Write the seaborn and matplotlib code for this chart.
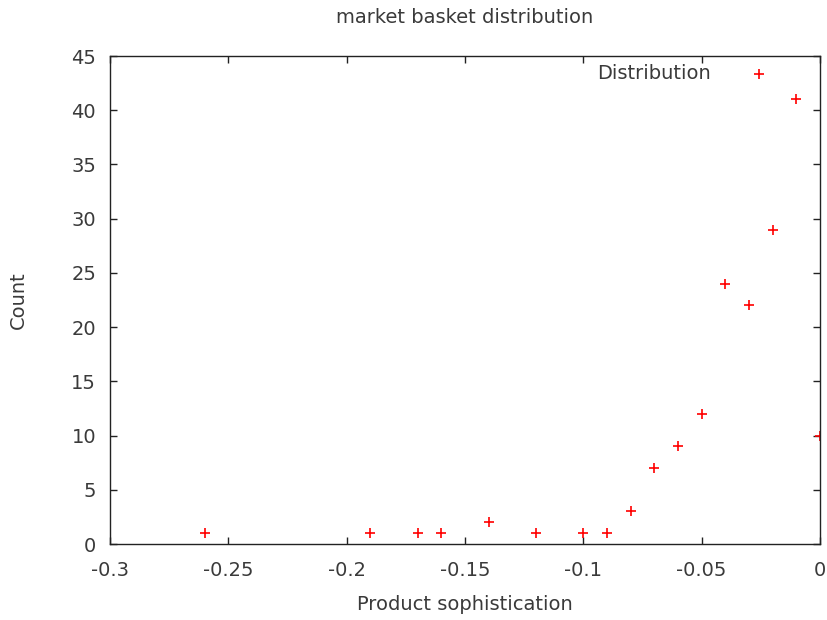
import matplotlib
matplotlib.use("Agg")
import matplotlib.pyplot as plt
import seaborn as sns
import pandas as pd

# Product sophistication bins and their counts
sophistication = [-0.26, -0.19, -0.17, -0.16, -0.14, -0.12, -0.10, -0.09,
                  -0.08, -0.07, -0.06, -0.05, -0.04, -0.03, -0.02, -0.01, 0.0]
counts = [1, 1, 1, 1, 2, 1, 1, 1, 3, 7, 9, 12, 24, 22, 29, 41, 10]

x_ticks = [-0.3, -0.25, -0.2, -0.15, -0.1, -0.05, 0.0]
x_tick_labels = ["-0.3", "-0.25", "-0.2", "-0.15", "-0.1", "-0.05", "0"]
y_ticks = [0, 5, 10, 15, 20, 25, 30, 35, 40, 45]
y_tick_labels = [str(v) for v in y_ticks]

df = pd.DataFrame({"Product sophistication": sophistication, "Count": counts})

sns.set_style("white")
plt.rcParams["font.family"] = ["DejaVu Sans"]
text_color = "#3a3a3a"
fs = 14

fig = plt.figure(figsize=(8.28, 6.2), dpi=100)
ax = fig.add_axes([110 / 828, 76 / 620, 710 / 828, 488 / 620])

sns.scatterplot(data=df, x="Product sophistication", y="Count", ax=ax,
                marker="+", color="#ff0000", s=60, linewidth=1.2,
                label="Distribution", legend=False)

ax.set_xlim(-0.3, 0.0)
ax.set_ylim(0, 45)
ax.set_xticks(x_ticks)
ax.set_xticklabels(x_tick_labels)
ax.set_yticks(y_ticks)
ax.set_yticklabels(y_tick_labels)

ax.tick_params(axis="both", direction="in", length=5, width=1, color="#222222",
               labelsize=fs, labelcolor=text_color, top=True, right=True,
               bottom=True, left=True)
ax.tick_params(axis="x", pad=12)
ax.tick_params(axis="y", pad=10)
for side in ax.spines.values():
    side.set_color("#222222")
    side.set_linewidth(1)

ax.set_xlabel("Product sophistication", fontsize=fs, color=text_color, labelpad=11)
ax.set_ylabel("Count", fontsize=fs, color=text_color, labelpad=31)
ax.set_title("market basket distribution", fontsize=fs, color=text_color, pad=24)

leg = ax.legend(loc="upper right", bbox_to_anchor=(0.953, 1.0), frameon=False,
                markerfirst=False, fontsize=fs, handletextpad=1.5,
                borderaxespad=0.0)
for t in leg.get_texts():
    t.set_color(text_color)

fig.savefig("out.png", dpi=100)
